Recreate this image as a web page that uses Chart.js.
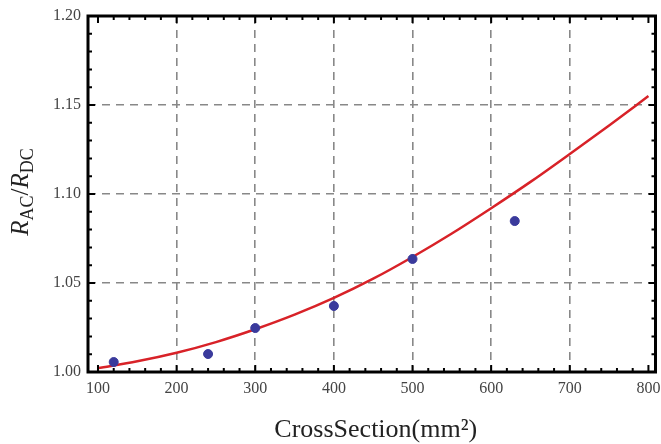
<!DOCTYPE html>
<html>
<head>
<meta charset="utf-8">
<script src="https://cdn.jsdelivr.net/npm/chart.js@4"></script>
<style>
  html, body { margin: 0; padding: 0; background: #fff; }
</style>
</head>
<body>
<canvas id="chart" width="661" height="444"></canvas>
<script>

// ---------------------------------------------------------------------------
// Data
// ---------------------------------------------------------------------------

// measured points
var sectionMm2 = [120, 240, 300, 400, 500, 630];
var ratioMeasured = [1.0056, 1.0101, 1.0247, 1.0371, 1.0635, 1.0848];

// fitted curve
var curveSection = [100, 150, 200, 250, 300, 350, 400, 450, 500, 550, 600, 650, 700, 750, 800];
var curveRatio = [1.0022, 1.0060, 1.0108, 1.0168, 1.0240, 1.0322, 1.0416, 1.0524, 1.0646, 1.0778, 1.0920, 1.1068, 1.1225, 1.1385, 1.155];

// axis ticks
var xTicks = [100, 200, 300, 400, 500, 600, 700, 800];
var yTicks = [1.00, 1.05, 1.10, 1.15, 1.20];

// ---------------------------------------------------------------------------
// Frame, inward tick marks and axis titles
// ---------------------------------------------------------------------------

var SERIF = '"Liberation Serif", "DejaVu Serif", serif';

var framePlugin = {
  id: 'frame',
  afterDraw(chart) {
    let ctx = chart.ctx;
    let a = chart.chartArea;
    let xs = chart.scales.x;
    let ys = chart.scales.y;

    ctx.save();
    ctx.strokeStyle = '#000';
    ctx.lineWidth = 2;
    ctx.beginPath();

    // x ticks, bottom and top
    for (let v = 100; v <= 800; v += 20) {
      let len = (v % 100 === 0) ? 7 : 4;
      let px = xs.getPixelForValue(v);
      ctx.moveTo(px, a.bottom); ctx.lineTo(px, a.bottom - len);
      ctx.moveTo(px, a.top); ctx.lineTo(px, a.top + len);
    }
    // y ticks, left and right
    for (let i = 0; i <= 20; i++) {
      let v = 1 + i * 0.01;
      let len = (i % 5 === 0) ? 7 : 4;
      let py = ys.getPixelForValue(v);
      ctx.moveTo(a.left, py); ctx.lineTo(a.left + len, py);
      ctx.moveTo(a.right, py); ctx.lineTo(a.right - len, py);
    }
    ctx.stroke();

    ctx.lineWidth = 3;
    ctx.strokeRect(a.left, a.top, a.right - a.left, a.bottom - a.top);

    // x title
    ctx.fillStyle = '#222';
    ctx.font = '26px ' + SERIF;
    ctx.textAlign = 'center';
    ctx.textBaseline = 'alphabetic';
    ctx.fillText('CrossSection(mm\u00B2)', (a.left + a.right) / 2 + 4, 437);

    // y title: R_AC / R_DC
    let parts = [
      { t: 'R', f: 'italic 25px ' + SERIF, dy: 0 },
      { t: 'AC', f: '18px ' + SERIF, dy: 5 },
      { t: '/', f: '25px ' + SERIF, dy: 0 },
      { t: 'R', f: 'italic 25px ' + SERIF, dy: 0 },
      { t: 'DC', f: '18px ' + SERIF, dy: 5 }
    ];
    let total = 0;
    parts.forEach(p => { ctx.font = p.f; p.w = ctx.measureText(p.t).width; total += p.w; });
    ctx.translate(28, 192);
    ctx.rotate(-Math.PI / 2);
    ctx.textAlign = 'left';
    let x = -total / 2;
    parts.forEach(p => {
      ctx.font = p.f;
      ctx.fillText(p.t, x, p.dy);
      x += p.w;
    });
    ctx.restore();
  }
};

// ---------------------------------------------------------------------------
// Chart
// ---------------------------------------------------------------------------

var ctx = document.getElementById('chart').getContext('2d');

var chart = new Chart(ctx, {
  type: 'scatter',
  data: {
    datasets: [{
      label: 'measured',
      data: sectionMm2.map((x, i) => ({ x: x, y: ratioMeasured[i] })),
      backgroundColor: '#3a3a9c',
      borderColor: '#3a3a9c',
      pointRadius: 4.5,
      pointHoverRadius: 4.5,
      order: 0
    }, {
      label: 'fit',
      data: curveSection.map((x, i) => ({ x: x, y: curveRatio[i] })),
      showLine: true,
      borderColor: '#d82228',
      borderWidth: 2.5,
      pointRadius: 0,
      cubicInterpolationMode: 'monotone',
      order: 1
    }]
  },
  options: {
    responsive: false,
    animation: false,
    layout: { padding: { top: 16, right: 4, left: 0, bottom: 0 } },
    plugins: {
      legend: { display: false },
      tooltip: { enabled: false }
    },
    scales: {
      x: {
        type: 'linear',
        min: 87.3,
        max: 809,
        afterBuildTicks: (s) => { s.ticks = xTicks.map(v => ({ value: v })); },
        afterFit: (s) => { s.height = 72; s.paddingLeft = 0; s.paddingRight = 0; },
        grid: {
          color: (c) => (c.tick && (c.tick.value === 100 || c.tick.value === 800)) ? 'rgba(0,0,0,0)' : '#888',
          lineWidth: 1.6,
          drawTicks: false
        },
        border: { display: false, dash: [8, 6] },
        ticks: {
          autoSkip: false,
          maxRotation: 0,
          padding: 7,
          color: '#444',
          font: { family: SERIF, size: 16 },
          callback: (v) => String(v)
        }
      },
      y: {
        type: 'linear',
        min: 1.0,
        max: 1.2,
        afterBuildTicks: (s) => { s.ticks = yTicks.map(v => ({ value: v })); },
        afterFit: (s) => { s.width = 88; s.paddingTop = 0; s.paddingBottom = 0; },
        grid: {
          color: (c) => (c.tick && (c.tick.value <= 1.0 || c.tick.value >= 1.2)) ? 'rgba(0,0,0,0)' : '#888',
          lineWidth: 1.6,
          drawTicks: false
        },
        border: { display: false, dash: [8, 6] },
        ticks: {
          padding: 7,
          color: '#444',
          font: { family: SERIF, size: 16 },
          callback: (v) => Number(v).toFixed(2)
        }
      }
    }
  },
  plugins: [framePlugin]
});

</script>
</body>
</html>
